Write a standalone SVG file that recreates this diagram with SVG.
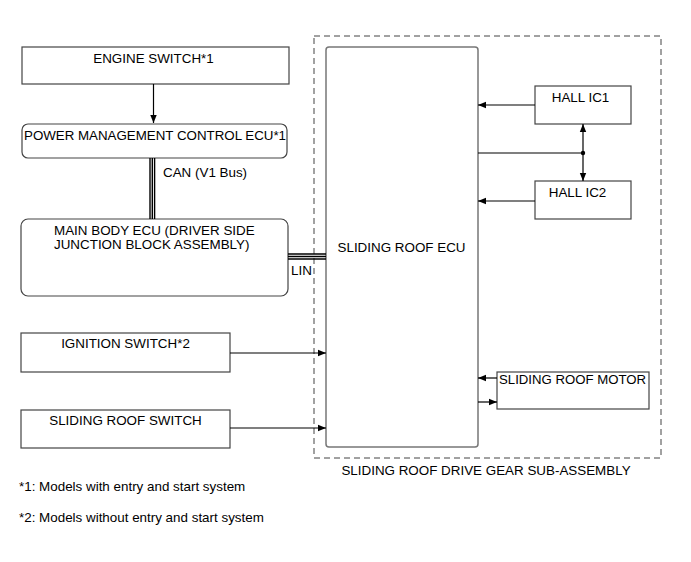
<svg xmlns="http://www.w3.org/2000/svg" width="691" height="562" viewBox="0 0 691 562">
<defs>
<marker id="arr" viewBox="0 0 10 10" refX="10" refY="5" markerWidth="8" markerHeight="8" markerUnits="userSpaceOnUse" orient="auto-start-reverse">
<path d="M0,1 L10,5 L0,9 z" fill="#000"/>
</marker>
</defs>
<style>
text{font-family:"Liberation Sans",Arial,sans-serif;font-size:13.4px;fill:#000}
.box{fill:#fff;stroke:#444;stroke-width:1.2}
.ecu{fill:#fff;stroke:#777;stroke-width:1.5}
.ln{stroke:#000;stroke-width:1.2;fill:none}
.bus{stroke:#000;stroke-width:1.4;fill:none}
.dash{fill:none;stroke:#444;stroke-width:1;stroke-dasharray:6,4}
</style>
<rect width="691" height="562" fill="#fff"/>
<g id="sub-assembly">
<rect class="dash" x="314" y="36" width="347" height="422"/>
<text x="486" y="475" text-anchor="middle">SLIDING ROOF DRIVE GEAR SUB-ASSEMBLY</text>
</g>
<g id="engine-switch">
<rect class="box" x="22" y="47" width="267" height="37"/>
<text x="153.5" y="63" text-anchor="middle">ENGINE SWITCH*1</text>
</g>
<g id="pmc-ecu">
<rect class="box" x="22" y="124" width="265" height="34" rx="6"/>
<text x="155" y="140" text-anchor="middle" textLength="262" lengthAdjust="spacingAndGlyphs">POWER MANAGEMENT CONTROL ECU*1</text>
</g>
<g id="main-body-ecu">
<rect class="box" x="21" y="219" width="267" height="77" rx="7"/>
<text x="54" y="235">MAIN BODY ECU (DRIVER SIDE</text>
<text x="54" y="249">JUNCTION BLOCK ASSEMBLY)</text>
</g>
<g id="ignition-switch">
<rect class="box" x="21" y="333" width="209" height="39"/>
<text x="125.5" y="348" text-anchor="middle">IGNITION SWITCH*2</text>
</g>
<g id="sliding-roof-switch">
<rect class="box" x="21" y="410" width="209" height="38"/>
<text x="125.5" y="425" text-anchor="middle">SLIDING ROOF SWITCH</text>
</g>
<g id="sliding-roof-ecu">
<rect class="ecu" x="326" y="47" width="152" height="400" rx="3"/>
<text x="401.5" y="252" text-anchor="middle">SLIDING ROOF ECU</text>
</g>
<g id="hall-ic1">
<rect class="box" x="535" y="86" width="96" height="38"/>
<text x="580.5" y="102" text-anchor="middle">HALL IC1</text>
</g>
<g id="hall-ic2">
<rect class="box" x="535" y="181" width="96" height="38"/>
<text x="577.5" y="197" text-anchor="middle">HALL IC2</text>
</g>
<g id="sliding-roof-motor">
<rect class="box" x="497" y="372" width="152" height="37"/>
<text x="572.5" y="384" text-anchor="middle" textLength="147" lengthAdjust="spacingAndGlyphs">SLIDING ROOF MOTOR</text>
</g>
<g id="connectors">
<line class="ln" x1="153.5" y1="84" x2="153.5" y2="123" marker-end="url(#arr)"/>
<line class="bus" x1="150" y1="158" x2="150" y2="219"/>
<line class="bus" x1="152.3" y1="158" x2="152.3" y2="219"/>
<line class="bus" x1="154.6" y1="158" x2="154.6" y2="219"/>
<text x="163" y="177">CAN (V1 Bus)</text>
<line class="bus" x1="288" y1="254" x2="326" y2="254"/>
<line class="bus" x1="288" y1="256.5" x2="326" y2="256.5"/>
<line class="bus" x1="288" y1="259" x2="326" y2="259"/>
<text x="291" y="275">LIN</text>
<line class="ln" x1="230" y1="353" x2="326" y2="353" marker-end="url(#arr)"/>
<line class="ln" x1="230" y1="428" x2="326" y2="428" marker-end="url(#arr)"/>
<line class="ln" x1="535" y1="105" x2="478" y2="105" marker-end="url(#arr)"/>
<line class="ln" x1="535" y1="201" x2="478" y2="201" marker-end="url(#arr)"/>
<line class="ln" x1="478" y1="153" x2="583" y2="153"/>
<line class="ln" x1="583" y1="153" x2="583" y2="124" marker-end="url(#arr)"/>
<line class="ln" x1="583" y1="153" x2="583" y2="181" marker-end="url(#arr)"/>
<circle cx="583" cy="153" r="2.2" fill="#000"/>
<line class="ln" x1="497" y1="378" x2="478" y2="378" marker-end="url(#arr)"/>
<line class="ln" x1="478" y1="402" x2="497" y2="402" marker-end="url(#arr)"/>
</g>
<g id="notes">
<text x="19" y="491">*1: Models with entry and start system</text>
<text x="19" y="522">*2: Models without entry and start system</text>
</g>
</svg>
